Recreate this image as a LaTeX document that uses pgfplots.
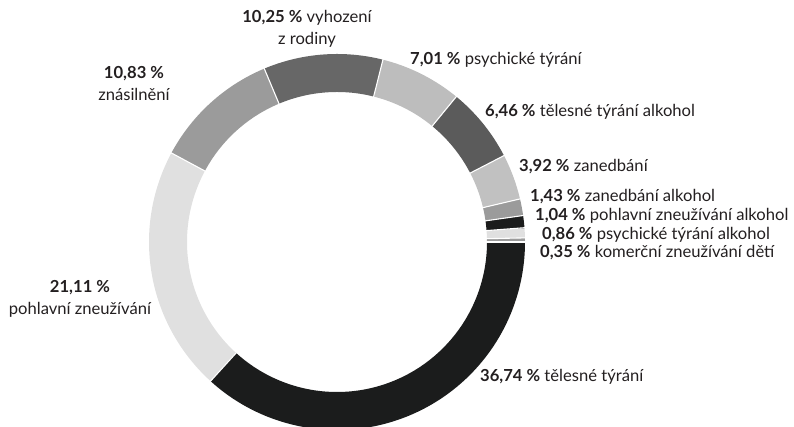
\documentclass[border=0pt]{standalone}
\usepackage{pgfplots}
\usepackage{pgfplotstable}
\pgfplotsset{compat=1.18}
\usepackage{fontspec}
\setmainfont{Lato}
\definecolor{gblk}{HTML}{1B1C1C}
\definecolor{ge0}{HTML}{E0E0E0}
\definecolor{gnn}{HTML}{9B9B9B}
\definecolor{gc0}{HTML}{C1C1C1}
\definecolor{gbd}{HTML}{BDBDBD}
\definecolor{gsf}{HTML}{5B5B5B}
\definecolor{gss}{HTML}{676767}
\definecolor{txt}{HTML}{231F20}

% slices counter-clockwise from 3 o'clock (percent)
\pgfplotstableread{
value color
0.35  gnn
0.86  ge0
1.04  gblk
1.43  gnn
3.92  gc0
6.46  gsf
7.01  gbd
10.25 gss
10.83 gnn
21.11 ge0
36.74 gblk
}\slices

\newcommand\Rin{150}
\newcommand\Rout{188}
\tikzset{lbl/.style={font=\fontsize{16.6}{22}\selectfont, text=txt, inner sep=0pt}}

\begin{document}
\begin{tikzpicture}
\pgfplotstablegetrowsof{\slices}
\pgfmathtruncatemacro\N{\pgfplotsretval-1}
\def\acc{0}
\def\plotcmds{}
\pgfplotsforeachungrouped \i in {0,...,\N}{%
  \pgfplotstablegetelem{\i}{value}\of\slices \let\v\pgfplotsretval
  \pgfplotstablegetelem{\i}{color}\of\slices \let\c\pgfplotsretval
  \pgfmathsetmacro\a{\acc*3.6}%
  \pgfmathsetmacro\newacc{\acc+\v}%
  \pgfmathsetmacro\b{\newacc*3.6}%
  \global\let\acc\newacc
  \edef\plotcmds{\unexpanded\expandafter{\plotcmds}%
    \noexpand\addplot[draw=\c, line width=38pt, line cap=butt, domain=\a:\b, samples=80, smooth]
      ({169*cos(x)},{169*sin(x)});}%
}
\def\sepcmds{}
\def\acc{0}
\pgfplotsforeachungrouped \i in {0,...,\N}{%
  \pgfplotstablegetelem{\i}{value}\of\slices \let\v\pgfplotsretval
  \pgfmathsetmacro\a{\acc*3.6}%
  \pgfmathsetmacro\newacc{\acc+\v}%
  \global\let\acc\newacc
  \edef\sepcmds{\unexpanded\expandafter{\sepcmds}%
    \noexpand\addplot[draw=white, line width=1.1pt, domain=\Rin-1:\Rout+1, samples=2]
      ({x*cos(\a)},{x*sin(\a)});}%
}
\begin{axis}[
  scale only axis, width=794pt, height=427pt,
  xmin=-337, xmax=457, ymin=-185, ymax=242,
  hide axis, clip=true,
]
\plotcmds
\sepcmds
\node[lbl, align=center] at (axis cs:-30,213.5) {\textbf{10,25 \%} vyhození\\z rodiny};
\node[lbl, align=center] at (axis cs:-203,158) {\textbf{10,83 \%}\\znásilnění};
\node[lbl, anchor=west] at (axis cs:73,182) {\textbf{7,01 \%} psychické týrání};
\node[lbl, anchor=west] at (axis cs:148,130) {\textbf{6,46 \%} tělesné týrání alkohol};
\node[lbl, anchor=west] at (axis cs:182,75) {\textbf{3,92 \%} zanedbání};
\node[lbl, anchor=west] at (axis cs:193,45) {\textbf{1,43 \%} zanedbání alkohol};
\node[lbl, anchor=west] at (axis cs:198,26) {\textbf{1,04 \%} pohlavní zneužívání alkohol};
\node[lbl, anchor=west] at (axis cs:205,7) {\textbf{0,86 \%} psychické týrání alkohol};
\node[lbl, anchor=west] at (axis cs:203,-11) {\textbf{0,35 \%} komerční zneužívání dětí};
\node[lbl, align=center] at (axis cs:-257,-57) {\textbf{21,11 \%}\\pohlavní zneužívání};
\node[lbl, anchor=west] at (axis cs:143,-135) {\textbf{36,74 \%} tělesné týrání};
\end{axis}
\pgfresetboundingbox
\path (current axis.south west) rectangle (current axis.north east);
\end{tikzpicture}
\end{document}
